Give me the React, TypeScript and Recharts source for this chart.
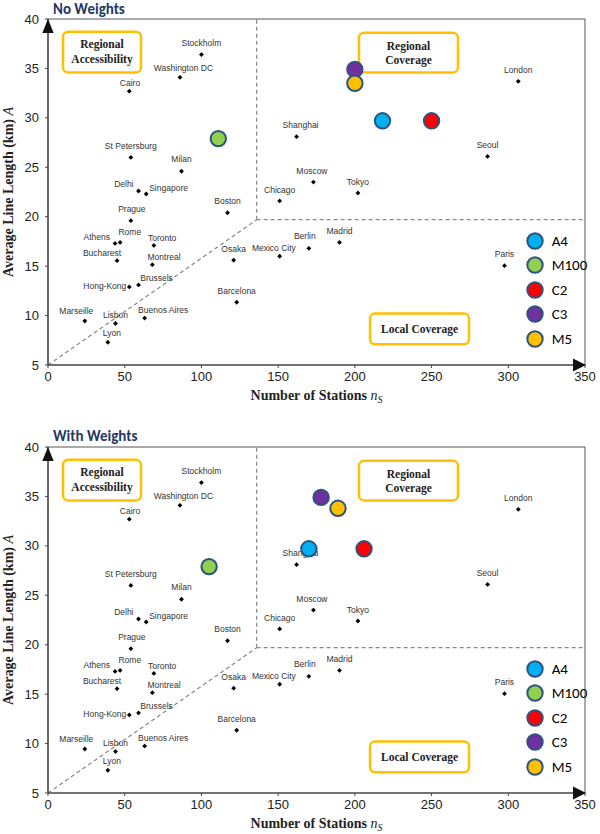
import React from 'react';
import { ScatterChart, Scatter, XAxis, YAxis, ReferenceLine, ReferenceArea, ReferenceDot, Legend } from 'recharts';

// ---- Data ----
const cityNames = ['Stockholm', 'Washington DC', 'Cairo', 'St Petersburg', 'Milan', 'Delhi', 'Singapore', 'Shanghai', 'London', 'Seoul', 'Moscow', 'Tokyo', 'Chicago', 'Boston', 'Prague', 'Athens', 'Rome', 'Toronto', 'Bucharest', 'Montreal', 'Osaka', 'Mexico City', 'Hong-Kong', 'Brussels', 'Barcelona', 'Marseille', 'Lisbon', 'Buenos Aires', 'Lyon', 'Berlin', 'Madrid', 'Paris'];
const cityStations = [100, 86, 53, 54, 87, 59, 64, 162, 306.5, 286.5, 173, 202, 151, 117, 54, 43.7, 47, 69, 45, 68, 121, 151, 53, 59, 123, 24, 44, 63, 39, 170, 190, 297.5];
const cityLengths = [36.4, 34.1, 32.7, 26.0, 24.6, 22.6, 22.3, 28.1, 33.7, 26.1, 23.5, 22.4, 21.6, 20.4, 19.6, 17.3, 17.4, 17.1, 15.55, 15.15, 15.6, 16.0, 12.9, 13.1, 11.35, 9.45, 9.2, 9.75, 7.3, 16.8, 17.4, 15.05];

const seriesNames = ['A4', 'M100', 'C2', 'C3', 'M5'];
const seriesColors = ['#00B0F0', '#92D050', '#FF0000', '#7030A0', '#FFC000'];
const noWeightsStations = [218, 111, 250, 200, 200];
const noWeightsLengths = [29.7, 27.9, 29.7, 34.9, 33.5];
const withWeightsStations = [170, 105, 206, 178, 189];
const withWeightsLengths = [29.7, 27.9, 29.7, 34.9, 33.8];

const xTicks = [0, 50, 100, 150, 200, 250, 300, 350];
const yTicks = [5, 10, 15, 20, 25, 30, 35, 40];

// zone boundaries (data units)
const zoneStations = 136;
const zoneLength = 19.7;

// annotation boxes: [x1, x2, y1, y2] in data units
const boxAccessibility = [9.8, 60.6, 34.6, 38.7];
const boxRegional = [202.7, 267.2, 34.6, 38.6];
const boxLocal = [209.9, 274.4, 7.1, 10.2];

// ---- label placement for city names ----
const labelPlacement: Record<string, [number, number, string]> = {
  'Stockholm': [0, -9, 'middle'], 'Washington DC': [3.5, -6, 'middle'], 'Cairo': [0.7, -5.5, 'middle'],
  'St Petersburg': [0, -8.7, 'middle'], 'Milan': [0, -9, 'middle'], 'Delhi': [-5, -3.7, 'end'],
  'Singapore': [3, -3, 'start'], 'Shanghai': [4, -9, 'middle'], 'London': [0, -8.7, 'middle'],
  'Seoul': [0, -8.4, 'middle'], 'Moscow': [-1.5, -8.3, 'middle'], 'Tokyo': [0, -8.4, 'middle'],
  'Chicago': [0, -8.3, 'middle'], 'Boston': [0, -8.3, 'middle'], 'Prague': [1, -8.3, 'middle'],
  'Athens': [-5, -3, 'end'], 'Rome': [9.7, -7.3, 'middle'], 'Toronto': [8.3, -4.7, 'middle'],
  'Bucharest': [-15, -4.4, 'middle'], 'Montreal': [11.7, -4.4, 'middle'], 'Osaka': [0, -8.7, 'middle'],
  'Mexico City': [-5.8, -5.3, 'middle'], 'Hong-Kong': [-3, 2, 'end'], 'Brussels': [1.7, -4, 'start'],
  'Barcelona': [0, -8.6, 'middle'], 'Marseille': [-8.5, -6.7, 'middle'], 'Lisbon': [0, -5, 'middle'],
  'Buenos Aires': [18.5, -5.3, 'middle'], 'Lyon': [4, -6, 'middle'], 'Berlin': [-4, -9, 'middle'],
  'Madrid': [0, -8.6, 'middle'], 'Paris': [0, -9, 'middle'],
};

const cityData = cityNames.map((name, i) => ({ name, x: cityStations[i], y: cityLengths[i] }));

const markerStroke = '#2F5380';
const serif = '"Liberation Serif", "Times New Roman", serif';
const sans = '"Liberation Sans", Arial, sans-serif';
const legendFont = 'Carlito, Lato, "Open Sans", sans-serif';

const CityShape = (props: any) => {
  const { cx, cy, payload } = props;
  if (cx == null || cy == null) return null;
  const name = payload?.name ?? '';
  const [dx, dy, anchor] = labelPlacement[name] || [0, -8, 'middle'];
  const r = 2.4;
  return (
    <g>
      <polygon points={`${cx},${cy - r} ${cx + r},${cy} ${cx},${cy + r} ${cx - r},${cy}`} fill="#000" />
      <text x={cx + dx} y={cy + dy} textAnchor={anchor as any} fontSize={8.5} fontFamily={sans} fill="#333">{name}</text>
    </g>
  );
};

const makeMarker = (color: string) => (props: any) => {
  const { cx, cy } = props;
  if (cx == null || cy == null) return null;
  return <circle cx={cx} cy={cy} r={7.7} fill={color} stroke={markerStroke} strokeWidth={2} />;
};

const makeBox = (lines: string[], baselines: number[]) => (props: any) => {
  const { x, y, width, height } = props;
  if (x == null) return null;
  const cx = x + width / 2;
  const cy = y + height / 2;
  return (
    <g>
      <rect x={x} y={y} width={width} height={height} rx={5} ry={5} fill="#fff" stroke="#FFC000" strokeWidth={2.5} />
      {lines.map((l, i) => (
        <text key={l} x={cx} y={cy + baselines[i]} textAnchor="middle" fontFamily={serif} fontWeight="bold" fontSize={11.5} fill="#222">{l}</text>
      ))}
    </g>
  );
};

const UpArrow = (props: any) => {
  const { cx, cy } = props;
  if (cx == null) return null;
  return <polygon points={`${cx},${cy} ${cx - 5.7},${cy + 14} ${cx + 5.7},${cy + 14}`} fill="#111" />;
};
const RightArrow = (props: any) => {
  const { cx, cy } = props;
  if (cx == null) return null;
  return <polygon points={`${cx + 1},${cy} ${cx - 12},${cy - 6.5} ${cx - 12},${cy + 6.5}`} fill="#111" />;
};

const XLabel = (props: any) => {
  const vb = props?.viewBox || { x: 48, y: 365, width: 537, height: 30 };
  const cx = vb.x + vb.width / 2;
  return (
    <text x={cx} y={vb.y + 35} textAnchor="middle" fontFamily={serif} fontWeight="bold" fontSize={14} fill="#222">
      Number of Stations <tspan fontStyle="italic" fontWeight="normal">n</tspan>
      <tspan fontStyle="italic" fontWeight="normal" fontSize={10} dy={3}>S</tspan>
    </text>
  );
};

const YLabel = (props: any) => {
  const vb = props?.viewBox || { x: 0, y: 19, width: 48, height: 346 };
  const cy = vb.y + vb.height / 2;
  const x = 13;
  return (
    <text x={x} y={cy} transform={`rotate(-90 ${x} ${cy})`} textAnchor="middle" fontFamily={serif} fontWeight="bold" fontSize={14} fill="#222">
      Average Line Length (km) <tspan fontStyle="italic" fontWeight="normal">A</tspan>
    </text>
  );
};

const LegendContent = () => (
  <div style={{ fontFamily: legendFont, fontSize: 15 }}>
    {seriesNames.map((n, i) => (
      <div key={n} style={{ display: 'flex', alignItems: 'center', height: 24.6 }}>
        <svg width={20} height={20} style={{ display: 'block' }}>
          <circle cx={10} cy={10} r={7.7} fill={seriesColors[i]} stroke={markerStroke} strokeWidth={2} />
        </svg>
        <span style={{ marginLeft: 6.7, color: '#000', lineHeight: '20px' }}>{n}</span>
      </div>
    ))}
  </div>
);

function Panel({ stations, lengths, height, bottom }: { stations: number[]; lengths: number[]; height: number; bottom: number }) {
  return (
    <ScatterChart width={600} height={height} margin={{ top: 19, right: 15, bottom, left: 0 }} style={{ fontFamily: sans }}>
      <XAxis type="number" dataKey="x" domain={[0, 350]} ticks={xTicks} interval={0} allowDataOverflow height={30}
        tickSize={3} tickMargin={4} tick={{ fontSize: 13, fill: '#222', fontFamily: sans }}
        axisLine={{ stroke: '#444', strokeWidth: 1.6 }} tickLine={{ stroke: '#444' }} label={XLabel} />
      <YAxis type="number" dataKey="y" domain={[5, 40]} ticks={yTicks} interval={0} allowDataOverflow width={48}
        tickSize={3} tickMargin={6} tick={{ fontSize: 13, fill: '#222', fontFamily: sans }}
        axisLine={{ stroke: '#444', strokeWidth: 1.6 }} tickLine={{ stroke: '#444' }} label={YLabel} />
      <ReferenceLine y={40} stroke="#555" strokeWidth={1} ifOverflow="visible" />
      <ReferenceLine x={350} stroke="#555" strokeWidth={1} ifOverflow="visible" />
      <ReferenceLine segment={[{ x: zoneStations, y: zoneLength }, { x: zoneStations, y: 40 }]} stroke="#888" strokeWidth={1.2} strokeDasharray="4 3" ifOverflow="visible" />
      <ReferenceLine segment={[{ x: zoneStations, y: zoneLength }, { x: 350, y: zoneLength }]} stroke="#888" strokeWidth={1.2} strokeDasharray="4 3" ifOverflow="visible" />
      <ReferenceLine segment={[{ x: 0, y: 5 }, { x: zoneStations, y: zoneLength }]} stroke="#888" strokeWidth={1.2} strokeDasharray="4 3" ifOverflow="visible" />
      <ReferenceArea x1={boxAccessibility[0]} x2={boxAccessibility[1]} y1={boxAccessibility[2]} y2={boxAccessibility[3]} ifOverflow="visible"
        shape={makeBox(['Regional', 'Accessibility'], [-4, 10.5])} />
      <ReferenceArea x1={boxRegional[0]} x2={boxRegional[1]} y1={boxRegional[2]} y2={boxRegional[3]} ifOverflow="visible"
        shape={makeBox(['Regional', 'Coverage'], [-3, 11])} />
      <ReferenceArea x1={boxLocal[0]} x2={boxLocal[1]} y1={boxLocal[2]} y2={boxLocal[3]} ifOverflow="visible"
        shape={makeBox(['Local Coverage'], [4.3])} />
      <ReferenceDot x={0} y={40} ifOverflow="visible" shape={UpArrow} />
      <ReferenceDot x={350} y={5} ifOverflow="visible" shape={RightArrow} />
      <Scatter name="cities" data={cityData} shape={CityShape} legendType="none" isAnimationActive={false} />
      {seriesNames.map((n, i) => (
        <Scatter key={n} name={n} data={[{ x: stations[i], y: lengths[i] }]} fill={seriesColors[i]}
          shape={makeMarker(seriesColors[i])} isAnimationActive={false} />
      ))}
      <Legend layout="vertical" align="center" verticalAlign="middle" content={LegendContent}
        wrapperStyle={{ left: 525, top: 228.4, width: 80, height: 125 }} />
    </ScatterChart>
  );
}

export default function App() {
  return (
    <div style={{ position: 'absolute', left: 0, top: 0, width: 600, height: 834, background: '#fff', overflow: 'hidden' }}>
      <svg width={600} height={834} style={{ position: 'absolute', left: 0, top: 0 }}>
        <text x={53} y={13.6} fontFamily='Carlito, Lato, "Open Sans", sans-serif' fontWeight="bold" fontSize={15} fill="#1F3864">No Weights</text>
        <text x={53} y={441} fontFamily='Carlito, Lato, "Open Sans", sans-serif' fontWeight="bold" fontSize={15} fill="#1F3864">With Weights</text>
      </svg>
      <div style={{ position: 'absolute', left: 0, top: 0 }}>
        <Panel stations={noWeightsStations} lengths={noWeightsLengths} height={428} bottom={33} />
      </div>
      <div style={{ position: 'absolute', left: 0, top: 428 }}>
        <Panel stations={withWeightsStations} lengths={withWeightsLengths} height={406} bottom={11} />
      </div>
    </div>
  );
}
